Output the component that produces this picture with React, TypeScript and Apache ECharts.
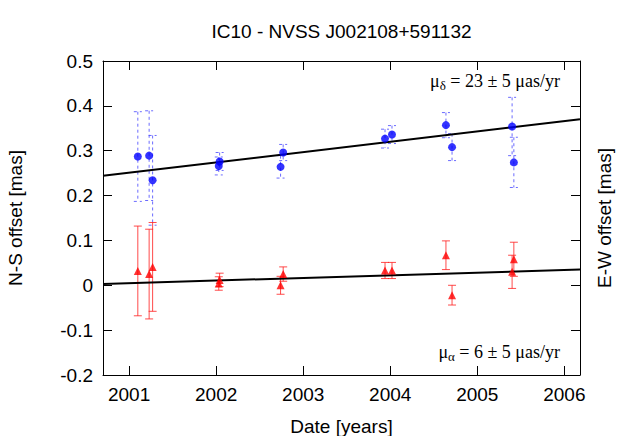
import React, { useEffect, useRef } from "react";
import * as echarts from "echarts";

// Observation epochs (decimal years)
const dates = [2001.10, 2001.23, 2001.27, 2002.04, 2002.03, 2002.74, 2002.77, 2003.94, 2004.02, 2004.64, 2004.71, 2005.40, 2005.42];
// N-S offsets (mas) and errors
const nsOffsets = [0.287, 0.289, 0.234, 0.276, 0.266, 0.264, 0.296, 0.327, 0.336, 0.357, 0.308, 0.354, 0.274];
const nsErrors = [0.100, 0.100, 0.100, 0.020, 0.020, 0.025, 0.018, 0.021, 0.020, 0.028, 0.030, 0.065, 0.056];
// E-W offsets (mas) and errors
const ewOffsets = [0.032, 0.025, 0.041, 0.012, 0.004, 0.000, 0.025, 0.033, 0.033, 0.067, -0.022, 0.030, 0.058];
const ewErrors = [0.100, 0.100, 0.099, 0.015, 0.015, 0.020, 0.016, 0.018, 0.018, 0.032, 0.022, 0.037, 0.038];
// Linear fits
const fitDates = [2000.70, 2006.18];
const nsFit = [0.244, 0.370];
const ewFit = [0.003, 0.035];
// Axis ranges
const xRange = [2000.70, 2006.18];
const yRange = [-0.2, 0.5];

const SANS = "Liberation Sans, Arial, Helvetica, sans-serif";
const SERIF = "Liberation Serif, Times New Roman, serif";

function errorBarRender(color: string, dash: number[] | null) {
  return (params: any, api: any) => {
    const x = api.value(0);
    const y = api.value(1);
    const e = api.value(2);
    const top = api.coord([x, y + e]);
    const bot = api.coord([x, y - e]);
    const hw = 4;
    const style: any = { stroke: color, lineWidth: 1, fill: "none" };
    if (dash) style.lineDash = dash;
    return {
      type: "group",
      children: [
        { type: "line", shape: { x1: top[0], y1: top[1], x2: bot[0], y2: bot[1] }, style },
        { type: "line", shape: { x1: top[0] - hw, y1: top[1], x2: top[0] + hw, y2: top[1] }, style },
        { type: "line", shape: { x1: bot[0] - hw, y1: bot[1], x2: bot[0] + hw, y2: bot[1] }, style },
      ],
    };
  };
}

export default function App() {
  const ref = useRef<HTMLDivElement>(null);
  useEffect(() => {
    document.body.style.margin = "0";
    if (!ref.current) return;
    const chart = echarts.init(ref.current, null, { renderer: "svg" });
    const nsPts = dates.map((d, i) => [d, nsOffsets[i]]);
    const ewPts = dates.map((d, i) => [d, ewOffsets[i]]);
    const nsErr = dates.map((d, i) => [d, nsOffsets[i], nsErrors[i]]);
    const ewErr = dates.map((d, i) => [d, ewOffsets[i], ewErrors[i]]);
    const nsLine = fitDates.map((d, i) => [d, nsFit[i]]);
    const ewLine = fitDates.map((d, i) => [d, ewFit[i]]);

    const xCommon: any = {
      type: "value",
      min: xRange[0],
      max: xRange[1],
      splitNumber: 5,
      splitLine: { show: false },
      axisLine: { show: true, onZero: false, lineStyle: { color: "#000", width: 1 } },
      axisTick: { show: true, inside: true, length: 9, lineStyle: { color: "#000" } },
    };
    const yCommon: any = {
      type: "value",
      min: yRange[0],
      max: yRange[1],
      interval: 0.1,
      splitLine: { show: false },
      axisLine: { show: true, onZero: false, lineStyle: { color: "#000", width: 1 } },
      axisTick: { show: true, inside: true, length: 9, lineStyle: { color: "#000" } },
      nameLocation: "middle",
      nameRotate: 90,
      nameTextStyle: { fontFamily: SANS, fontSize: 19, color: "#000" },
    };

    const richStyle = {
      a: { fontFamily: SERIF, fontSize: 18, fill: "#000", lineHeight: 22, verticalAlign: "middle" },
      s: { fontFamily: SERIF, fontSize: 13, fill: "#000", lineHeight: 22, verticalAlign: "bottom", padding: [6, 0, 0, 0] },
    };

    chart.setOption({
      animation: false,
      grid: { left: 103, right: 42, top: 61, bottom: 61, containLabel: false, outerBoundsMode: "none" },
      graphic: [
        {
          type: "text",
          x: 341.5,
          y: 31,
          style: {
            text: "IC10 - NVSS J002108+591132",
            fontFamily: SANS,
            fontSize: 19,
            fill: "#000",
            align: "center",
            verticalAlign: "middle",
          },
        },
        {
          type: "text",
          x: 560,
          y: 81,
          style: {
            text: "{a|μ}{s|δ}{a| = 23 ± 5 μas/yr}",
            align: "right",
            verticalAlign: "middle",
            rich: richStyle,
          },
        },
        {
          type: "text",
          x: 560,
          y: 352,
          style: {
            text: "{a|μ}{s|α}{a| = 6 ± 5 μas/yr}",
            align: "right",
            verticalAlign: "middle",
            rich: richStyle,
          },
        },
      ],
      xAxis: [
        {
          ...xCommon,
          position: "bottom",
          name: "Date [years]",
          nameLocation: "middle",
          nameGap: 42,
          nameTextStyle: { fontFamily: SANS, fontSize: 19, color: "#000" },
          axisLabel: {
            show: true,
            fontFamily: SANS,
            fontSize: 19,
            color: "#000",
            margin: 10,
            showMinLabel: false,
            showMaxLabel: false,
            formatter: (v: number) => (Math.abs(v - Math.round(v)) < 1e-6 ? String(Math.round(v)) : ""),
          },
        },
        { ...xCommon, position: "top", axisLabel: { show: false } },
      ],
      yAxis: [
        {
          ...yCommon,
          position: "left",
          name: "N-S offset [mas]",
          nameGap: 78,
          axisLabel: {
            show: true,
            fontFamily: SANS,
            fontSize: 19,
            color: "#000",
            margin: 10,
            formatter: (v: number) => String(Math.round(v * 10) / 10),
          },
        },
        {
          ...yCommon,
          position: "right",
          name: "E-W offset [mas]",
          nameGap: 15,
          axisLabel: { show: false },
        },
      ],
      series: [
        {
          type: "custom",
          xAxisIndex: 0,
          yAxisIndex: 0,
          data: nsErr,
          renderItem: errorBarRender("rgba(70,70,255,0.8)", [3, 3]),
          silent: true,
          z: 2,
        },
        {
          type: "custom",
          xAxisIndex: 0,
          yAxisIndex: 0,
          data: ewErr,
          renderItem: errorBarRender("rgba(255,30,30,0.8)", null),
          silent: true,
          z: 2,
        },
        {
          type: "line",
          data: nsLine,
          symbol: "none",
          lineStyle: { color: "#000", width: 2 },
          z: 3,
        },
        {
          type: "line",
          data: ewLine,
          symbol: "none",
          lineStyle: { color: "#000", width: 2 },
          z: 3,
        },
        {
          type: "scatter",
          data: nsPts,
          symbol: "circle",
          symbolSize: 8,
          itemStyle: { color: "#0000ff" },
          z: 4,
        },
        {
          type: "scatter",
          data: ewPts,
          symbol: "triangle",
          symbolSize: 8,
          itemStyle: { color: "#ff0000" },
          z: 4,
        },
      ],
    });
    return () => chart.dispose();
  }, []);
  return <div ref={ref} style={{ width: 622, height: 436 }} />;
}
